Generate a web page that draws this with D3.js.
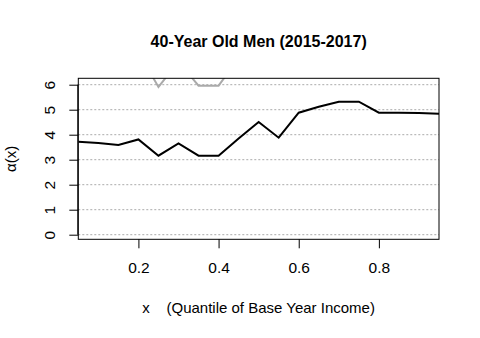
<!DOCTYPE html>
<html>
<head>
<meta charset="utf-8">
<script src="https://cdn.jsdelivr.net/npm/d3@7"></script>
<style>
  body { margin: 0; background: #fff; }
  text { font-family: "Liberation Sans", Arial, sans-serif; }
</style>
</head>
<body>
<svg id="chart" width="480" height="338"></svg>
<script>
// quantiles of base year income
const quantiles = [0.05, 0.10, 0.15, 0.20, 0.25, 0.30, 0.35, 0.40, 0.45, 0.50,
                   0.55, 0.60, 0.65, 0.70, 0.75, 0.80, 0.85, 0.90, 0.95];
// alpha(x), main series (black)
const alphaMen = [3.72, 3.67, 3.59, 3.81, 3.16, 3.65, 3.16, 3.16, 3.85, 4.51,
                  3.88, 4.88, 5.12, 5.32, 5.32, 4.88, 4.88, 4.87, 4.84];
// comparison series (grey), mostly above the plotted range
const alphaRef = [7.4, 7.3, 7.3, 7.3, 5.91, 6.92, 5.96, 5.96, 7.06, 7.2,
                  7.3, 7.4, 7.5, 7.5, 7.6, 7.6, 7.6, 7.7, 7.7];
const yTicks = [0, 1, 2, 3, 4, 5, 6];
const xTicks = [0.2, 0.4, 0.6, 0.8];

const svg = d3.select("#chart");
const plot = { left: 78.3, right: 439, top: 78.3, bottom: 239.3 };

const x = d3.scaleLinear().domain([0.05, 0.95]).range([plot.left, plot.right]);
const y = d3.scaleLinear().domain([-0.184, 6.256]).range([plot.bottom, plot.top]);

// grid
svg.append("g")
  .selectAll("line")
  .data(yTicks)
  .join("line")
  .attr("x1", plot.left).attr("x2", plot.right)
  .attr("y1", d => y(d)).attr("y2", d => y(d))
  .attr("stroke", "#aaa")
  .attr("stroke-width", 1)
  .attr("stroke-dasharray", "2,2");

svg.append("defs").append("clipPath").attr("id", "clip")
  .append("rect")
  .attr("x", plot.left).attr("y", plot.top)
  .attr("width", plot.right - plot.left).attr("height", plot.bottom - plot.top);

const line = d3.line().x((d, i) => x(quantiles[i])).y(d => y(d));

const lines = svg.append("g").attr("clip-path", "url(#clip)");
lines.append("path")
  .attr("d", line(alphaRef))
  .attr("fill", "none")
  .attr("stroke", "#aaaaaa")
  .attr("stroke-width", 2);
lines.append("path")
  .attr("d", line(alphaMen))
  .attr("fill", "none")
  .attr("stroke", "#000")
  .attr("stroke-width", 2);

// box
svg.append("rect")
  .attr("x", plot.left).attr("y", plot.top)
  .attr("width", plot.right - plot.left).attr("height", plot.bottom - plot.top)
  .attr("fill", "none").attr("stroke", "#000");

// x axis
const xAxis = svg.append("g")
  .attr("transform", `translate(0,${plot.bottom})`)
  .call(d3.axisBottom(x).tickValues(xTicks).tickSize(9).tickPadding(14)
    .tickFormat(d3.format(".1f")));
xAxis.select(".domain").remove();
xAxis.selectAll("text").attr("font-size", 15.5).attr("fill", "#000")
  .attr("font-family", "Liberation Sans, Arial, sans-serif");

// y axis
const yAxis = svg.append("g")
  .attr("transform", `translate(${plot.left},0)`)
  .call(d3.axisLeft(y).tickValues(yTicks).tickSize(9).tickFormat(d3.format("d")));
yAxis.select(".domain").attr("d", `M-0.5,${y(0)}V${y(6)}`);
yAxis.selectAll(".tick text")
  .attr("x", null).attr("dy", null)
  .attr("transform", "translate(-23,0) rotate(-90)")
  .attr("text-anchor", "middle")
  .attr("font-size", 15.5).attr("fill", "#000")
  .attr("font-family", "Liberation Sans, Arial, sans-serif");

// title and labels
svg.append("text")
  .attr("x", (plot.left + plot.right) / 2).attr("y", 47)
  .attr("text-anchor", "middle")
  .attr("font-size", 16).attr("font-weight", "bold")
  .text("40-Year Old Men (2015-2017)");

svg.append("text")
  .attr("x", (plot.left + plot.right) / 2).attr("y", 313)
  .attr("text-anchor", "middle")
  .attr("font-size", 15)
  .attr("xml:space", "preserve")
  .text("x    (Quantile of Base Year Income)");

svg.append("text")
  .attr("transform", `translate(16,${(plot.top + plot.bottom) / 2}) rotate(-90)`)
  .attr("text-anchor", "middle")
  .attr("font-size", 15)
  .text("α(x)");
</script>
</body>
</html>
